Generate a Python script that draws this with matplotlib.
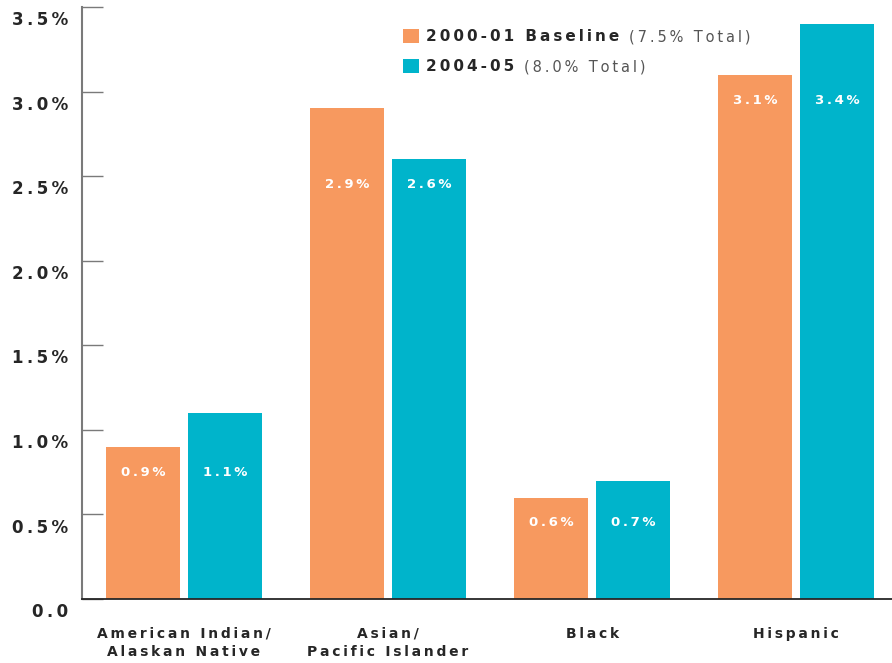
import matplotlib
matplotlib.use("Agg")
import matplotlib.pyplot as plt
import numpy as np
from matplotlib.transforms import ScaledTranslation

# Data
categories = ["American Indian/\nAlaskan Native", "Asian/\nPacific Islander", "Black", "Hispanic"]
baseline_vals = [0.9, 2.9, 0.6, 3.1]
recent_vals = [1.1, 2.6, 0.7, 3.4]
series_names = ["2000-01 Baseline", "2004-05"]
series_totals = ["(7.5% Total)", "(8.0% Total)"]
y_ticks = [0.0, 0.5, 1.0, 1.5, 2.0, 2.5, 3.0, 3.5]

ORANGE = "#F7995F"
TEAL = "#00B4CB"
DARK = "#262626"

THIN = "\u2009"


def spaced(s, sp=THIN):
    """Widen letter spacing by inserting narrow spaces between characters."""
    return "\n".join(sp.join(line) for line in s.split("\n"))


plt.rcParams["font.family"] = ["DejaVu Sans"]

fig = plt.figure(figsize=(8.92, 6.63), dpi=100)
ax = fig.add_axes([82 / 892, (663 - 599) / 663, 1 - 82 / 892, (599 - 7) / 663])

x = np.arange(len(categories))
width = 0.363
offset = 0.201

ax.bar(x - offset, baseline_vals, width, color=ORANGE, label=series_names[0], zorder=2)
ax.bar(x + offset, recent_vals, width, color=TEAL, label=series_names[1], zorder=2)

# Value labels sit at a common height inside each pair of bars
for i in range(len(categories)):
    ly = min(baseline_vals[i], recent_vals[i]) - 0.15
    for xi, v in ((x[i] - offset, baseline_vals[i]), (x[i] + offset, recent_vals[i])):
        ax.text(xi, ly, spaced(f"{v:.1f}%"), ha="center", va="center",
                color="white", fontsize=9.5, fontweight="bold", zorder=3)

ax.set_xlim(-0.5, 3.47)
ax.set_ylim(0, 3.5)

# Axes styling
for side in ("top", "right"):
    ax.spines[side].set_visible(False)
ax.spines["left"].set_color("#7a7a7a")
ax.spines["left"].set_linewidth(1.5)
ax.spines["bottom"].set_color(DARK)
ax.spines["bottom"].set_linewidth(1.3)

ax.set_yticks(y_ticks)
ax.set_yticklabels([spaced("0.0") if t == 0 else spaced(f"{t:.1f}%") for t in y_ticks],
                   fontsize=12, fontweight="bold", color=DARK)
ax.tick_params(axis="y", direction="in", length=15, width=1.0, color="#7a7a7a", pad=10)
for lab in ax.get_yticklabels():
    lab.set_transform(lab.get_transform() + ScaledTranslation(0, -8 / 72, fig.dpi_scale_trans))

ax.set_xticks(x)
ax.set_xticklabels([spaced(c) for c in categories], fontsize=10, fontweight="bold",
                   color=DARK, linespacing=1.4, va="top")
ax.tick_params(axis="x", length=0, pad=20)

# Legend with bold series names, totals appended in regular weight
leg = ax.legend(loc="upper left", bbox_to_anchor=((403 - 82) / 810, 1.0 - 22 / 592),
                frameon=False, handlelength=1.05, handleheight=1.05, handletextpad=0.45,
                labelspacing=0.95, borderaxespad=0, borderpad=0,
                prop={"size": 11, "weight": "bold"})
for t in leg.get_texts():
    t.set_text(spaced(t.get_text()))
    t.set_color(DARK)

fig.canvas.draw()
renderer = fig.canvas.get_renderer()
for t, tot in zip(leg.get_texts(), series_totals):
    bb = t.get_window_extent(renderer)
    fig.text((bb.x1 + 10) / fig.bbox.width, (bb.y0 + bb.y1) / 2 / fig.bbox.height,
             spaced(tot), fontsize=10.5, color="#555555", va="center", ha="left")

fig.savefig("out.png", dpi=100)
